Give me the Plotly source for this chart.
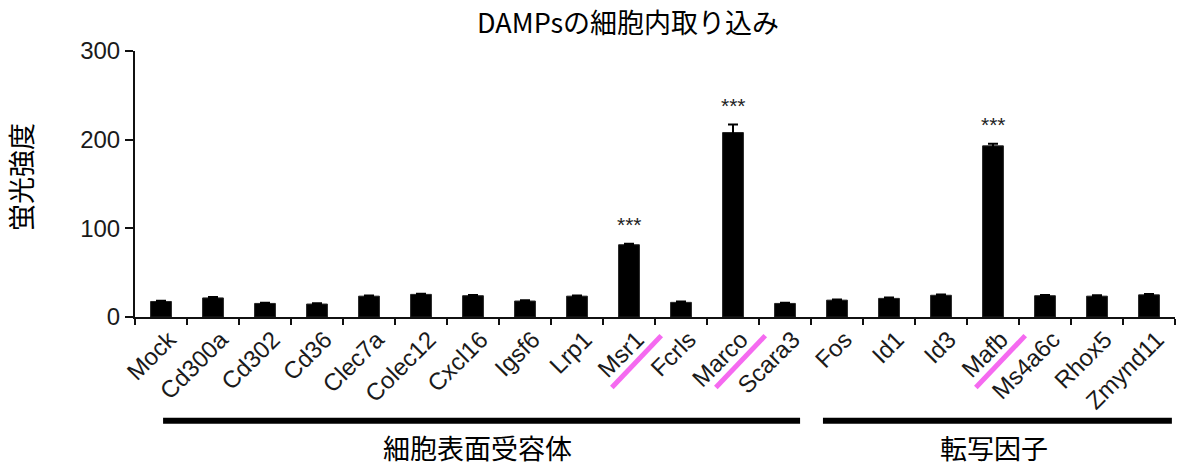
import plotly.graph_objects as go

# Categories (genes) and measured fluorescence intensity
genes = ["Mock", "Cd300a", "Cd302", "Cd36", "Clec7a", "Colec12", "Cxcl16", "Igsf6",
         "Lrp1", "Msr1", "Fcrls", "Marco", "Scara3",
         "Fos", "Id1", "Id3", "Mafb", "Ms4a6c", "Rhox5", "Zmynd11"]
intensity = [17.5, 21.5, 15.3, 14.6, 23.5, 25.5, 24.0, 18.0,
             23.5, 81.5, 16.5, 208.0, 15.3,
             19.0, 21.0, 24.5, 193.0, 24.0, 23.5, 25.0]
sem = [0.8, 1.0, 0.8, 1.0, 0.8, 0.8, 0.8, 0.8,
       0.8, 1.2, 1.0, 9.0, 0.8,
       0.8, 1.0, 0.8, 2.5, 0.8, 1.0, 0.8]
significant = ["Msr1", "Marco", "Mafb"]
highlighted = ["Msr1", "Marco", "Mafb"]

# Group brackets: (label, start, end, label centre) in category units
groups = [("細胞表面受容体", 0.04, 12.29, 6.08),
          ("転写因子", 12.73, 19.44, 16.02)]

y_ticks = [0, 100, 200, 300]

title_text = "DAMPsの細胞内取り込み"
y_title = "蛍光強度"

LATIN = "Liberation Sans, Arial, sans-serif"
CJK = "Noto Sans CJK JP, sans-serif"
n = len(genes)


def xpaper(u):
    """Category units -> paper x for range [-0.5, n-0.5]."""
    return (u + 0.5) / n


fig = go.Figure()
fig.add_trace(go.Bar(
    x=genes, y=intensity,
    marker=dict(color="black", line=dict(color="#222222", width=1)),
    width=0.4,
    error_y=dict(type="data", array=sem, symmetric=True,
                 color="black", thickness=2, width=5),
    showlegend=False,
))

annotations = []
# Significance stars above bars
for g in significant:
    i = genes.index(g)
    annotations.append(dict(
        x=g, y=intensity[i] + sem[i], xref="x", yref="y",
        text="***", showarrow=False, yanchor="bottom", yshift=6,
        font=dict(family=LATIN, size=21, color="#222222"),
    ))

shapes = []
# Magenta highlight strokes under selected gene labels
for g in highlighted:
    i = genes.index(g)
    shapes.append(dict(
        type="line", xref="paper", yref="paper",
        x0=xpaper(i - 0.33), y0=-0.265, x1=xpaper(i + 0.62), y1=-0.07,
        line=dict(color="#F56AF0", width=5),
    ))

# Group bars and group labels
for label, u0, u1, uc in groups:
    shapes.append(dict(
        type="line", xref="paper", yref="paper",
        x0=xpaper(u0), y0=-0.39, x1=xpaper(u1), y1=-0.39,
        line=dict(color="black", width=6),
    ))
    annotations.append(dict(
        x=xpaper(uc), y=-0.49, xref="paper", yref="paper",
        text=label, showarrow=False, xanchor="center", yanchor="middle",
        font=dict(family=CJK, size=27, color="black"),
    ))

# Rotated y-axis title
annotations.append(dict(
    x=-0.1106, y=0.526, xref="paper", yref="paper",
    text=y_title, showarrow=False, textangle=-90,
    xanchor="center", yanchor="middle",
    font=dict(family=CJK, size=27, color="black"),
))

fig.update_layout(
    template="none",
    width=1177, height=468,
    margin=dict(l=135, r=2, t=51, b=151),
    paper_bgcolor="white", plot_bgcolor="white",
    title=dict(text=title_text, xref="container", yref="container",
               x=0.5336, y=1 - 23.5 / 468, xanchor="center", yanchor="middle",
               font=dict(family=CJK, size=27, color="black")),
    xaxis=dict(
        range=[-0.5, n - 0.5], showline=True, linecolor="#111111", linewidth=2,
        ticks="outside", tickson="boundaries", ticklen=6, tickwidth=2, tickcolor="#111111",
        tickangle=-45, showgrid=False, zeroline=False,
        ticklabelshift=8, ticklabelstandoff=-3,
        tickfont=dict(family=LATIN, size=24, color="#1a1a1a"),
    ),
    yaxis=dict(
        range=[0, 300], tickvals=y_ticks, showline=True, linecolor="#111111", linewidth=2,
        ticks="outside", ticklen=8, tickwidth=2, tickcolor="#111111",
        showgrid=False, zeroline=False,
        tickfont=dict(family=LATIN, size=24, color="#1a1a1a"),
    ),
    annotations=annotations,
    shapes=shapes,
    bargap=0.6,
)

fig.write_html("out.html")
